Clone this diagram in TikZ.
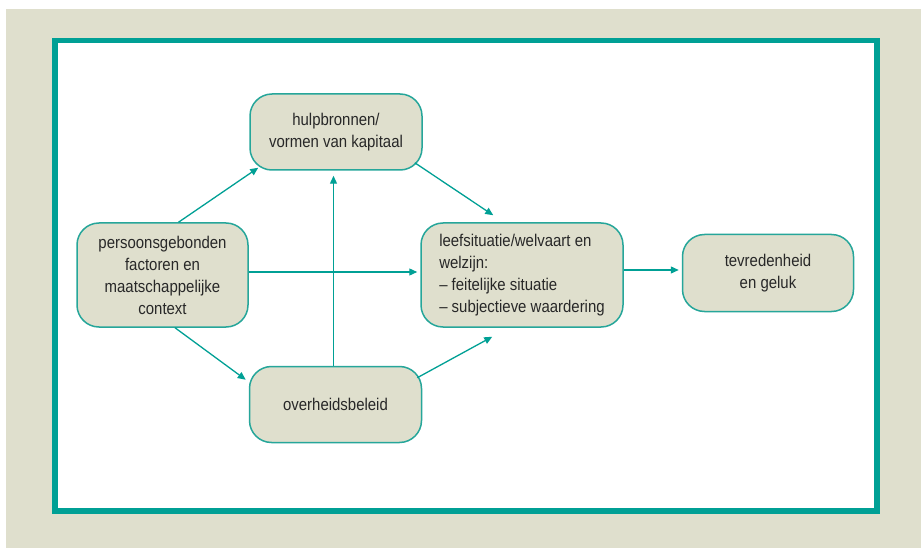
\documentclass[tikz,border=0pt]{standalone}
\usepackage{fontspec}
\setmainfont[FakeStretch=0.88]{Liberation Sans}
\usetikzlibrary{arrows.meta,calc}
\definecolor{achtergrond}{RGB}{223,223,205}
\definecolor{groen}{RGB}{0,160,149}
\definecolor{rand}{RGB}{38,166,154}
\definecolor{tekst}{RGB}{40,40,40}
\tikzset{
	blok/.style={draw=rand,line width=1.5pt,fill=achtergrond,rounded corners=22pt,inner sep=0pt,
		text=tekst,font=\fontsize{17}{22}\selectfont,align=center},
	pijl/.style={draw=groen,line width=1.3pt,-{Triangle[length=8pt,width=7pt]}}
}
\begin{document}
\begin{tikzpicture}[x=1pt,y=-1pt]
	\useasboundingbox (0,0) rectangle (921,548);
	\fill[white] (0,0) rectangle (921,548);
	\fill[achtergrond] (6,9) rectangle (921,548);
		\draw[groen,line width=5.5pt,fill=white] (55,40.5) rectangle (877,511);
	% de blokken
	\node[blok,minimum width=171pt,minimum height=104pt] (pers) at (162.5,275) {persoonsgebonden\\factoren en\\maatschappelijke\\context};
	\node[blok,minimum width=172pt,minimum height=76pt] (hulp) at (336,132) {hulpbronnen/\\vormen van kapitaal};
	\node[blok,minimum width=172pt,minimum height=76pt] (over) at (335.5,404.5) {overheidsbeleid};
	\node[blok,align=left,minimum width=202pt,minimum height=104pt] (leef) at (522,275) {leefsituatie/welvaart en\\welzijn:\\– feitelijke situatie\\– subjectieve waardering};
	\node[blok,minimum width=171pt,minimum height=77pt] (tev) at (768,273) {tevredenheid\\en geluk};
	% de pijlen
		\draw[pijl] ($(pers.north)+(16,0)$) -- ($(hulp.south west)+(9,-3)$);
		\draw[pijl] ($(pers.south)+(12.5,0)$) -- ($(over.north west)+(-3,14)$);
		\draw[pijl] ($(pers.east)+(0,-3)$) -- ($(leef.west)+(-3,-3)$);
		\draw[pijl] ($(over.north)+(-2,0)$) -- ($(hulp.south)+(-2.5,5)$);
		\draw[pijl] ($(hulp.south east)+(-8,-8)$) -- ($(leef.north west)+(73,-7)$);
		\draw[pijl] ($(over.north east)+(-5,12)$) -- ($(leef.south west)+(72,9)$);
		\draw[pijl] ($(leef.east)+(0,-5)$) -- ($(tev.west)+(-3,-3)$);
\end{tikzpicture}
\end{document}
